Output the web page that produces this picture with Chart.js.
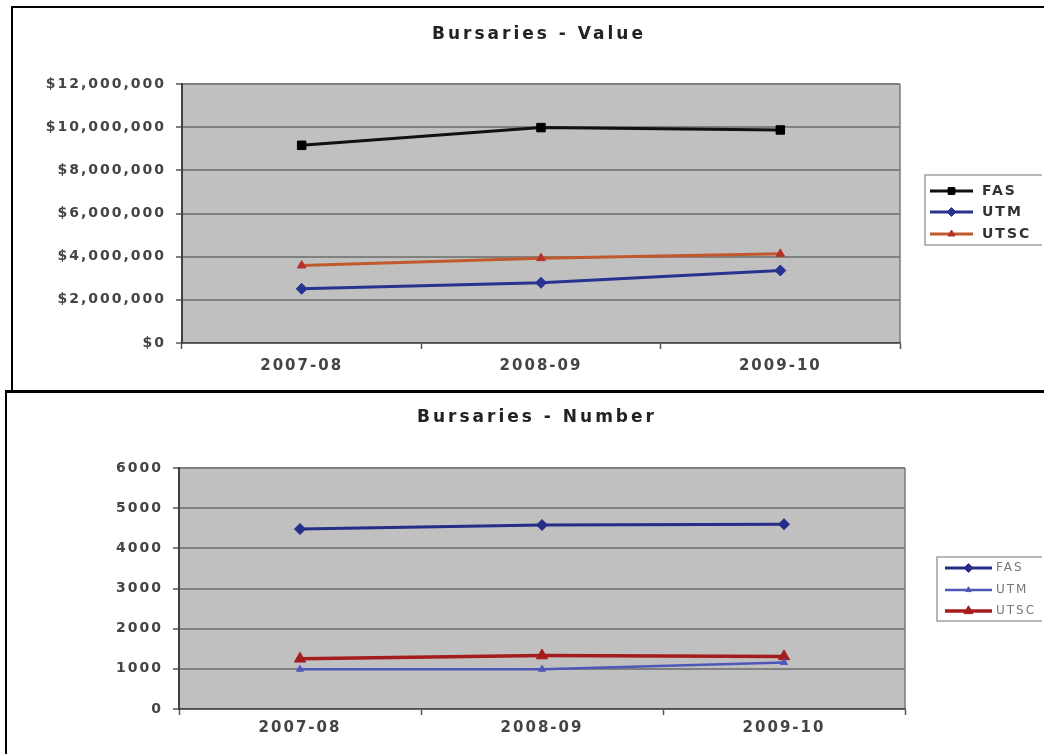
<!DOCTYPE html>
<html>
<head>
<meta charset="utf-8">
<title>Bursaries</title>
<script src="https://cdn.jsdelivr.net/npm/chart.js@4.4.0/dist/chart.umd.min.js"></script>
<style>
    html { margin: 0; padding: 0; background: #fff; overflow: hidden; }
    body { margin: 0; padding: 0; width: 1044px; height: 755px; position: relative; background: #fff; overflow: hidden; }
    .box { position: absolute; border: 2px solid #000; border-right: none; background: #fff; }
    #boxValue { left: 11px; top: 6px; width: 1100px; height: 384px; }
    #boxNumber { left: 5px; top: 390px; width: 1100px; height: 361px; border-top-width: 3px; border-bottom: none; }
    .wrap { position: absolute; }
    #wrapValue { left: 14px; top: 9px; width: 1028px; height: 381px; }
    #wrapNumber { left: 9px; top: 394px; width: 1033px; height: 361px; }
</style>
</head>
<body>
<div class="box" id="boxValue"></div>
<div class="box" id="boxNumber"></div>
<div class="wrap" id="wrapValue"><canvas id="valueChart"></canvas></div>
<div class="wrap" id="wrapNumber"><canvas id="numberChart"></canvas></div>

<script>
// Data
const years = ['2007-08', '2008-09', '2009-10'];
const seriesNames = ['FAS', 'UTM', 'UTSC'];

const valueFAS = [9160000, 9980000, 9870000];
const valueUTM = [2510000, 2790000, 3360000];
const valueUTSC = [3590000, 3930000, 4130000];

const numberFAS = [4480, 4580, 4600];
const numberUTM = [990, 990, 1160];
const numberUTSC = [1250, 1330, 1310];

const valueTitle = 'Bursaries - Value';
const numberTitle = 'Bursaries - Number';

const FONT = '"DejaVu Sans", Verdana, sans-serif';
const SPACING = '2px';

// grey plot area, title, spacing and the boxed legend on the right
const excelLook = {
    id: 'excelLook',
    beforeUpdate(chart) {
        chart.ctx.letterSpacing = SPACING;
    },
    beforeDraw(chart, args, opts) {
        const ctx = chart.ctx;
        const a = chart.chartArea;
        ctx.letterSpacing = SPACING;
        ctx.save();
        ctx.fillStyle = '#c0c0c0';
        ctx.fillRect(a.left, a.top, a.right - a.left, a.bottom - a.top);
        ctx.strokeStyle = '#7a7a7a';
        ctx.lineWidth = 1.5;
        ctx.beginPath();
        ctx.moveTo(a.right, a.top);
        ctx.lineTo(a.right, a.bottom);
        ctx.stroke();

        // title
        ctx.letterSpacing = '3px';
        ctx.fillStyle = '#222';
        ctx.font = 'bold 17px ' + FONT;
        ctx.textAlign = 'center';
        ctx.textBaseline = 'middle';
        ctx.fillText(opts.title, opts.titleX, opts.titleY);
        ctx.restore();
    },
    afterDraw(chart, args, opts) {
        const ctx = chart.ctx;
        const lg = opts.legend;
        ctx.save();
        ctx.fillStyle = '#fff';
        ctx.strokeStyle = '#8a8a8a';
        ctx.lineWidth = 1.2;
        ctx.fillRect(lg.x, lg.y, lg.w, lg.h);
        ctx.strokeRect(lg.x, lg.y, lg.w, lg.h);
        chart.data.datasets.forEach((ds, i) => {
            const y = lg.rows[i];
            ctx.strokeStyle = ds.borderColor;
            ctx.lineWidth = ds.borderWidth;
            ctx.beginPath();
            ctx.moveTo(lg.x1, y);
            ctx.lineTo(lg.x2, y);
            ctx.stroke();
            ctx.fillStyle = ds.pointBackgroundColor;
            ctx.strokeStyle = ds.pointBackgroundColor;
            ctx.lineWidth = 1;
            Chart.helpers.drawPoint(ctx, {
                pointStyle: ds.pointStyle,
                radius: ds.pointRadius * 0.8,
                rotation: 0,
                borderWidth: 1
            }, (lg.x1 + lg.x2) / 2, y);
            ctx.fillStyle = lg.color;
            ctx.font = lg.font;
            ctx.textAlign = 'left';
            ctx.textBaseline = 'middle';
            ctx.fillText(ds.label, lg.tx, y);
        });
        ctx.restore();
    }
};

function makeLine(label, data, color, width, marker, markerColor, radius) {
    return {
        label: label,
        data: data,
        borderColor: color,
        borderWidth: width,
        pointStyle: marker,
        pointRadius: radius,
        pointHoverRadius: radius,
        pointBackgroundColor: markerColor,
        pointBorderColor: markerColor,
        pointBorderWidth: 1,
        tension: 0,
        fill: false
    };
}

function buildOptions(cfg) {
    return {
        responsive: true,
        maintainAspectRatio: false,
        animation: false,
        events: [],
        layout: { padding: { left: 0, top: cfg.top, right: cfg.right, bottom: 0 } },
        plugins: {
            legend: { display: false },
            title: { display: false },
            tooltip: { enabled: false },
            excelLook: cfg.look
        },
        scales: {
            x: {
                offset: true,
                afterFit: function(scale) { scale.height = cfg.xHeight; },
                grid: {
                    offset: true,
                    drawOnChartArea: false,
                    tickLength: 6,
                    tickColor: '#555',
                    tickWidth: 1.5
                },
                border: { color: '#4a4a4a', width: 1.5 },
                ticks: {
                    color: '#444',
                    padding: cfg.xPad,
                    maxRotation: 0,
                    font: { family: FONT, size: 15, weight: 'bold' }
                }
            },
            y: {
                min: 0,
                max: cfg.max,
                afterFit: function(scale) { scale.width = cfg.yWidth; },
                grid: {
                    color: '#808080',
                    lineWidth: 2,
                    tickLength: 6,
                    tickColor: '#555',
                    tickWidth: 1.5
                },
                border: { color: '#404040', width: 2 },
                ticks: {
                    stepSize: cfg.step,
                    color: '#444',
                    padding: 10,
                    font: { family: FONT, size: 14, weight: 'bold' },
                    callback: cfg.format
                }
            }
        }
    };
}

function createValueChart() {
    const ctx = document.getElementById('valueChart').getContext('2d');
    new Chart(ctx, {
        type: 'line',
        data: {
            labels: years,
            datasets: [
                makeLine(seriesNames[0], valueFAS, '#111111', 3, 'rect', '#000000', 6),
                makeLine(seriesNames[1], valueUTM, '#27338f', 3, 'rectRot', '#27338f', 5.5),
                makeLine(seriesNames[2], valueUTSC, '#c2582e', 3, 'triangle', '#b3332a', 5)
            ]
        },
        plugins: [excelLook],
        options: buildOptions({
            top: 75,
            right: 142,
            xHeight: 47,
            xPad: 8,
            yWidth: 168,
            max: 12000000,
            step: 2000000,
            format: v => '$' + Number(v).toLocaleString('en-US'),
            look: {
                title: valueTitle,
                titleX: 525,
                titleY: 26,
                legend: {
                    x: 911, y: 166, w: 200, h: 70,
                    rows: [182, 203, 225],
                    x1: 916, x2: 959, tx: 968,
                    font: 'bold 14px ' + FONT,
                    color: '#333'
                }
            }
        })
    });
}

function createNumberChart() {
    const ctx = document.getElementById('numberChart').getContext('2d');
    new Chart(ctx, {
        type: 'line',
        data: {
            labels: years,
            datasets: [
                makeLine(seriesNames[0], numberFAS, '#252d86', 3, 'rectRot', '#252d86', 5.5),
                makeLine(seriesNames[1], numberUTM, '#4d58b8', 2.5, 'triangle', '#4d58b8', 4),
                makeLine(seriesNames[2], numberUTSC, '#a51c1c', 3.5, 'triangle', '#a51c1c', 6.5)
            ]
        },
        plugins: [excelLook],
        options: buildOptions({
            top: 74,
            right: 137,
            xHeight: 46,
            xPad: 4,
            yWidth: 170,
            max: 6000,
            step: 1000,
            format: v => String(v),
            look: {
                title: numberTitle,
                titleX: 528,
                titleY: 24,
                legend: {
                    x: 928, y: 163, w: 200, h: 64,
                    rows: [174, 196, 217],
                    x1: 936, x2: 983, tx: 987,
                    font: '12px ' + FONT,
                    color: '#777'
                }
            }
        })
    });
}

document.addEventListener('DOMContentLoaded', function() {
    createValueChart();
    createNumberChart();
});
</script>
</body>
</html>
